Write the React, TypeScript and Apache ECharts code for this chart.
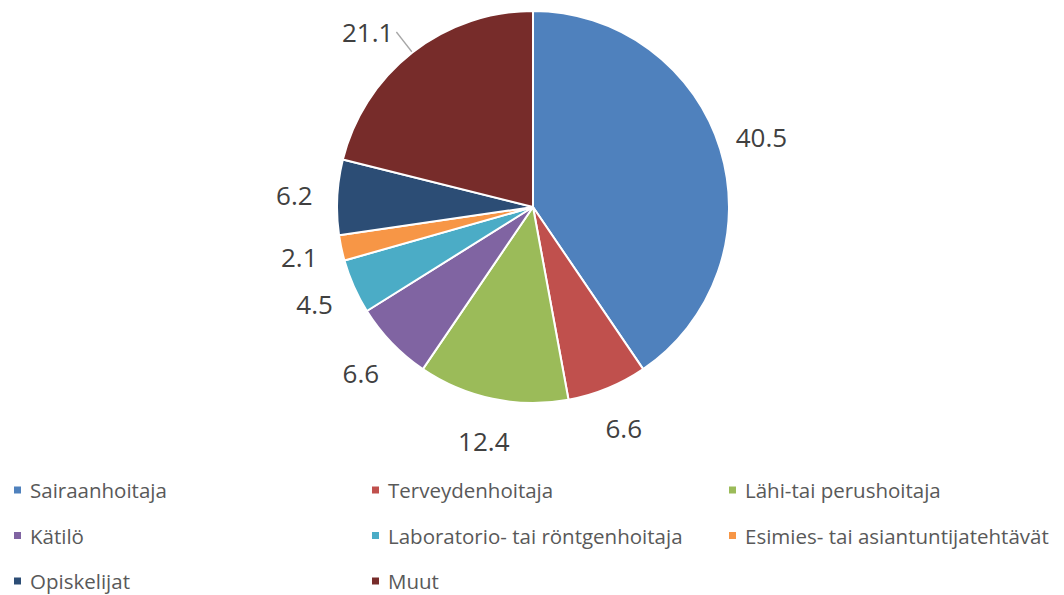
import React, { useEffect, useRef } from "react";
import * as echarts from "echarts";

const categories = [
  "Sairaanhoitaja",
  "Terveydenhoitaja",
  "Lähi-tai perushoitaja",
  "Kätilö",
  "Laboratorio- tai röntgenhoitaja",
  "Esimies- tai asiantuntijatehtävät",
  "Opiskelijat",
  "Muut",
];
const values = [40.5, 6.6, 12.4, 6.6, 4.5, 2.1, 6.2, 21.1];
const colors = ["#4F81BD", "#C0504D", "#9BBB59", "#8064A2", "#4BACC6", "#F79646", "#2C4D75", "#772C2A"];

const legendCol1 = ["Sairaanhoitaja", "Kätilö", "Opiskelijat"];
const legendCol2 = ["Terveydenhoitaja", "Laboratorio- tai röntgenhoitaja", "Muut"];
const legendCol3 = ["Lähi-tai perushoitaja", "Esimies- tai asiantuntijatehtävät"];

const FONT = "'Open Sans', sans-serif";

export default function App() {
  const ref = useRef<HTMLDivElement>(null);
  useEffect(() => {
    if (!ref.current) return;
    const chart = echarts.init(ref.current, undefined, { renderer: "svg" });
    const center = [533, 207];
    const legendBase = {
      orient: "vertical" as const,
      top: 474,
      height: 130,
      padding: 5,
      itemWidth: 9,
      itemHeight: 9,
      itemGap: 23.5,
      icon: "rect",
      selectedMode: false,
      textStyle: { color: "#595959", fontSize: 20.5, fontFamily: FONT, lineHeight: 22, padding: [0, 0, 0, 3] },
    };
    const lastIdx = categories.length - 1;
    const labelStyle = { color: "#404040", fontSize: 26, fontFamily: FONT };
    chart.setOption({
      animation: false,
      backgroundColor: "#ffffff",
      color: colors,
      legend: [
        { ...legendBase, left: 7, data: legendCol1 },
        { ...legendBase, left: 365, data: legendCol2 },
        { ...legendBase, left: 722, data: legendCol3 },
      ],
      series: [
        {
          type: "pie",
          center,
          radius: [0, 196],
          startAngle: 90,
          clockwise: true,
          silent: true,
          emphasis: { disabled: true },
          itemStyle: { borderColor: "#ffffff", borderWidth: 2 },
          label: { show: false },
          labelLine: { show: false },
          data: categories.map((name, i) => ({
            name,
            value: values[i],
            itemStyle: { color: colors[i] },
            ...(i === lastIdx
              ? {
                  label: {
                    show: true,
                    position: "outside",
                    formatter: "{c}",
                    ...labelStyle,
                    distanceToLabelLine: 3,
                  },
                  labelLine: { show: true, length: 26, length2: 0, lineStyle: { color: "#A6A6A6", width: 1.3 } },
                }
              : {}),
          })),
        },
        {
          type: "pie",
          center,
          radius: [216, 256],
          startAngle: 90,
          clockwise: true,
          silent: true,
          emphasis: { disabled: true },
          itemStyle: { color: "transparent" },
          label: {
            show: true,
            position: "inside",
            formatter: "{c}",
            ...labelStyle,
          },
          labelLine: { show: false },
          data: categories.map((name, i) => ({
            name,
            value: values[i],
            itemStyle: { color: "transparent" },
            label: { show: i !== lastIdx },
          })),
        },
      ],
    });
    return () => chart.dispose();
  }, []);
  return <div ref={ref} style={{ position: "absolute", left: 0, top: 0, width: 1064, height: 595 }} />;
}
